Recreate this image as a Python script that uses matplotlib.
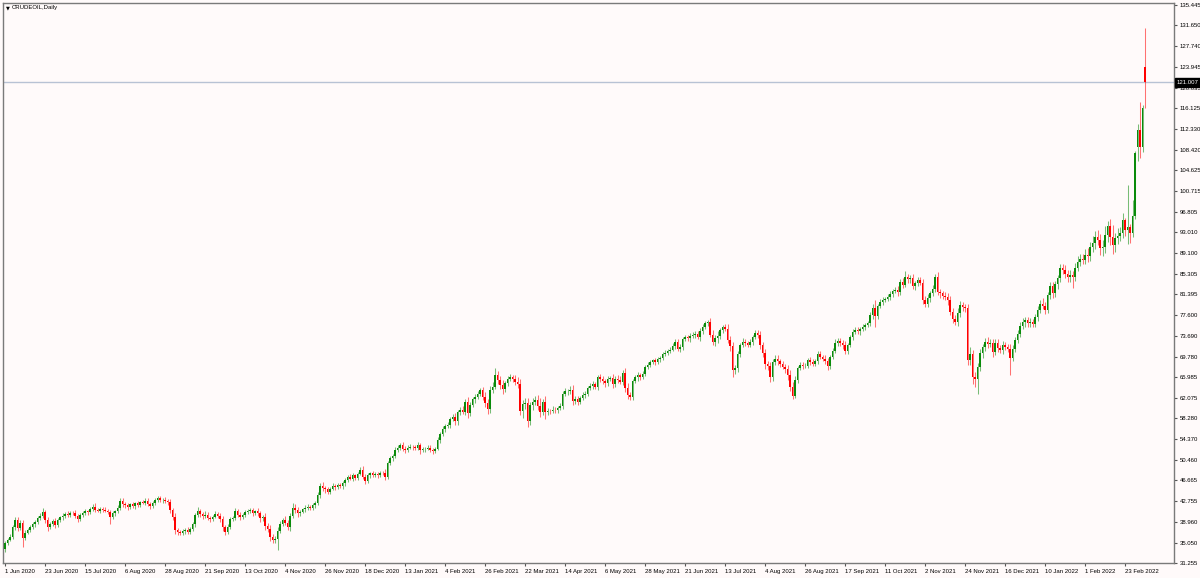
import numpy as np
import matplotlib
matplotlib.use('Agg')
import matplotlib.pyplot as plt
import matplotlib.transforms as mtransforms

# daily closes, one row per 16 bars (one row per date label)
closes = [
    35.0, 35.6, 36.2, 37.9, 39.2, 37.8, 38.8, 36.0, 36.9, 37.5, 37.9, 38.5, 38.9, 39.6, 40.1, 40.7,
    39.3, 38.0, 38.6, 39.1, 38.4, 39.2, 39.8, 40.1, 40.4, 40.2, 40.6, 40.5, 40.1, 39.5, 40.2, 40.6,
    40.9, 40.7, 41.3, 41.8, 41.2, 41.0, 41.4, 41.2, 41.0, 40.8, 39.9, 40.5, 40.9, 41.5, 42.8, 42.3,
    42.0, 41.7, 42.2, 41.9, 42.4, 42.1, 42.6, 42.5, 42.8, 42.3, 41.9, 42.5, 43.0, 43.3, 43.0, 43.1,
    42.8, 42.6, 41.1, 39.8, 37.4, 37.0, 36.9, 37.2, 37.4, 37.1, 37.6, 38.5, 40.2, 40.9, 40.4, 40.0,
    40.3, 39.7, 39.5, 39.9, 40.4, 40.1, 39.4, 37.9, 37.1, 38.0, 39.4, 39.7, 40.9, 40.3, 39.8, 40.2,
    40.8, 41.0, 41.1, 40.6, 40.9, 40.5, 39.6, 39.9, 38.2, 37.6, 36.2, 35.5, 35.8, 37.3, 38.6, 39.3,
    38.8, 38.0, 40.1, 41.6, 41.2, 40.5, 40.8, 41.3, 41.6, 41.8, 41.5, 42.0, 42.5, 44.0, 45.6, 45.2,
    45.0, 44.6, 45.1, 45.6, 45.4, 45.8, 45.6, 46.1, 46.8, 47.3, 47.0, 47.6, 47.2, 47.9, 48.6, 47.4,
    46.6, 47.6, 48.0, 47.7, 47.9, 47.6, 48.1, 48.0, 47.3, 49.9, 50.8, 51.2, 52.3, 52.8, 53.3, 52.6,
    52.3, 52.8, 53.0, 52.9, 52.7, 53.2, 52.3, 52.5, 52.6, 52.8, 52.4, 52.2, 52.6, 54.2, 55.3, 56.3,
    56.9, 57.1, 58.2, 58.5, 57.7, 59.4, 59.9, 59.5, 61.4, 59.2, 60.7, 61.8, 62.3, 62.9, 63.5, 62.3,
    61.2, 60.0, 63.6, 64.2, 66.3, 65.5, 64.5, 63.7, 64.8, 65.6, 65.9, 65.7, 65.0, 64.6, 59.7, 60.9,
    61.1, 57.8, 60.8, 61.4, 61.7, 60.6, 59.5, 61.3, 59.4, 59.7, 59.6, 59.9, 59.8, 60.2, 60.6, 62.8,
    63.3, 63.3, 63.6, 61.5, 61.9, 61.4, 62.1, 62.6, 62.9, 63.9, 64.3, 64.6, 64.2, 65.9, 65.6, 65.2,
    64.8, 65.6, 65.8, 64.6, 65.7, 65.5, 65.1, 66.8, 64.0, 62.6, 62.2, 65.3, 65.9, 66.4, 66.0, 66.6,
    67.8, 68.3, 68.8, 69.1, 68.8, 69.3, 69.6, 70.2, 70.5, 70.9, 71.1, 71.8, 72.6, 71.2, 71.6, 73.1,
    73.4, 73.2, 73.6, 73.8, 74.1, 73.4, 74.5, 75.4, 76.0, 76.3, 73.9, 72.5, 73.2, 73.6, 74.7, 75.3,
    75.0, 72.9, 71.7, 67.2, 67.6, 70.3, 71.9, 72.6, 72.3, 72.0, 72.5, 73.4, 74.2, 73.9, 72.0, 70.5,
    68.4, 68.0, 65.9, 68.8, 69.4, 68.9, 68.4, 67.9, 67.5, 66.4, 64.2, 62.5, 65.5, 67.6, 68.2, 68.0,
    68.1, 69.2, 68.8, 68.5, 69.0, 70.3, 69.7, 69.4, 69.0, 68.0, 69.7, 70.9, 72.4, 72.8, 72.3, 72.0,
    70.8, 71.9, 73.4, 74.4, 74.8, 74.5, 74.9, 75.3, 75.7, 76.0, 77.5, 78.9, 77.4, 79.2, 79.9, 80.4,
    80.6, 81.0, 81.5, 82.0, 82.3, 81.8, 83.8, 83.2, 84.7, 84.2, 84.5, 82.9, 83.5, 84.1, 83.6, 80.4,
    79.7, 80.8, 81.6, 82.5, 84.6, 81.9, 81.6, 81.2, 81.0, 80.4, 78.2, 76.9, 76.3, 78.0, 79.4, 79.0,
    78.8, 69.2, 70.3, 66.0, 65.6, 67.9, 70.4, 71.6, 72.6, 72.2, 72.4, 70.7, 72.3, 71.4, 71.0, 72.0,
    71.6, 71.3, 69.5, 71.3, 72.9, 74.1, 75.6, 76.2, 76.6, 76.0, 76.3, 75.9, 77.2, 78.5, 79.7, 79.2,
    78.5, 81.3, 82.9, 81.6, 83.3, 84.4, 86.3, 86.0, 85.2, 84.7, 85.0, 84.7, 86.4, 87.5, 88.1, 87.9,
    88.8, 88.5, 90.3, 91.0, 92.2, 91.6, 90.0, 90.3, 92.5, 94.1, 92.2, 90.6, 91.9, 92.3, 92.8, 95.3,
    93.4, 94.0, 92.8, 96.0, 107.8, 112.1, 108.9, 116.2, 121.007,
]

# opens follow the previous close except where the chart shows a gap
open_first = 33.8
open_gaps = {453: 108.9, 456: 123.9}

# wick lengths above / below the body
wick_up = [
    0.4, 0.3, 0.5, 0.4, 0.7, 0.6, 0.5, 0.4, 0.6, 0.3, 0.5, 0.4, 0.3, 0.5, 0.4, 0.8,
    0.5, 0.6, 0.4, 0.3, 0.5, 0.4, 0.3, 0.4, 0.3, 0.5, 0.3, 0.4, 0.6, 0.3, 0.4, 0.3,
    0.4, 0.3, 0.5, 0.4, 0.6, 0.3, 0.4, 0.3, 0.5, 0.4, 0.3, 0.4, 0.3, 0.5, 0.5, 0.6,
    0.3, 0.4, 0.3, 0.5, 0.3, 0.4, 0.3, 0.4, 0.5, 0.6, 0.3, 0.4, 0.3, 0.4, 0.5, 0.3,
    0.5, 0.4, 0.6, 0.5, 0.7, 0.4, 0.5, 0.4, 0.3, 0.5, 0.4, 0.5, 0.4, 0.9, 0.5, 0.4,
    0.6, 0.5, 0.4, 0.3, 0.5, 0.4, 0.5, 0.6, 0.4, 0.5, 0.4, 0.3, 0.7, 0.5, 0.4, 0.3,
    0.4, 0.3, 0.5, 0.4, 0.3, 0.6, 0.5, 0.4, 0.6, 0.5, 0.7, 0.4, 0.5, 0.6, 0.5, 0.4,
    0.7, 0.5, 0.4, 0.8, 0.6, 0.5, 0.4, 0.3, 0.5, 0.4, 0.3, 0.4, 0.3, 0.6, 0.5, 0.8,
    0.5, 0.4, 0.3, 0.5, 0.4, 0.3, 0.4, 0.5, 0.4, 0.3, 0.5, 0.4, 0.3, 0.4, 0.6, 0.7,
    0.5, 0.4, 0.3, 0.5, 0.4, 0.3, 0.4, 0.3, 0.8, 0.4, 0.5, 0.4, 0.6, 0.5, 0.4, 0.6,
    0.5, 0.4, 0.5, 0.3, 0.4, 0.6, 0.5, 0.4, 0.3, 0.4, 0.5, 0.4, 0.3, 0.5, 0.4, 0.5,
    0.4, 0.5, 0.4, 0.6, 0.7, 0.5, 0.4, 0.6, 0.5, 0.9, 0.6, 0.4, 0.5, 0.4, 0.5, 0.7,
    0.8, 0.6, 0.7, 0.9, 1.3, 0.8, 0.7, 0.9, 0.5, 0.6, 0.7, 0.5, 0.6, 0.9, 1.0, 0.8,
    0.9, 1.0, 0.6, 0.7, 0.8, 0.9, 1.4, 0.6, 1.2, 0.5, 0.4, 0.6, 0.5, 0.4, 0.6, 0.5,
    0.6, 0.5, 0.7, 0.8, 0.6, 0.5, 0.4, 0.6, 0.5, 0.4, 0.5, 0.6, 0.5, 0.4, 0.6, 0.5,
    0.5, 0.6, 0.4, 0.8, 0.5, 0.6, 0.7, 0.5, 0.9, 0.8, 0.6, 0.4, 0.5, 0.6, 0.4, 0.5,
    0.4, 0.5, 0.4, 0.3, 0.5, 0.4, 0.3, 0.4, 0.5, 0.3, 0.4, 0.5, 0.4, 0.5, 0.6, 0.4,
    0.5, 0.4, 0.6, 0.5, 0.4, 0.5, 0.6, 0.4, 0.5, 0.4, 0.7, 0.8, 0.6, 1.0, 0.5, 0.4,
    0.6, 0.8, 0.7, 0.9, 0.6, 0.5, 0.4, 0.6, 0.5, 0.4, 0.5, 0.4, 0.6, 0.5, 0.7, 0.6,
    0.7, 0.6, 0.8, 0.5, 0.6, 0.7, 0.5, 0.6, 0.5, 0.7, 0.8, 0.9, 0.6, 0.5, 0.6, 0.5,
    0.5, 0.4, 0.6, 0.5, 0.4, 0.6, 0.5, 0.4, 0.6, 0.5, 0.4, 0.5, 0.6, 0.4, 0.5, 0.6,
    0.7, 0.5, 0.4, 0.5, 0.6, 0.5, 0.4, 0.5, 0.4, 0.5, 0.6, 0.7, 1.4, 0.5, 0.6, 0.5,
    0.4, 0.5, 0.6, 0.5, 0.4, 0.6, 0.5, 0.6, 1.0, 0.5, 0.6, 0.8, 0.5, 0.6, 0.5, 0.7,
    0.8, 0.6, 0.5, 0.7, 0.6, 0.9, 0.6, 0.5, 0.7, 0.6, 0.8, 0.7, 0.6, 0.9, 0.7, 0.6,
    0.7, 0.9, 1.2, 0.8, 0.9, 0.7, 0.8, 0.6, 0.7, 0.8, 0.7, 0.6, 0.8, 0.7, 0.6, 0.7,
    0.6, 0.5, 0.8, 0.6, 0.5, 0.7, 0.6, 0.8, 0.5, 0.6, 0.7, 0.5, 0.6, 0.7, 0.6, 1.1,
    0.7, 0.6, 0.8, 0.9, 0.7, 0.6, 0.7, 0.8, 0.9, 0.7, 1.0, 0.8, 0.9, 1.1, 0.8, 0.9,
    1.0, 1.2, 0.9, 1.4, 1.1, 1.3, 1.0, 1.2, 1.6, 1.1, 1.3, 2.2, 1.0, 1.5, 1.2, 1.4,
    0.4, 7.8, 0.6, 3.0, 0.4, 1.2, 5.2, 0.6, 7.2,
]
wick_dn = [
    0.5, 0.4, 0.3, 0.5, 0.4, 0.6, 0.3, 1.7, 0.4, 0.3, 0.4, 0.3, 0.5, 0.4, 0.3, 0.5,
    0.6, 0.7, 0.4, 0.5, 0.6, 0.4, 0.3, 0.5, 0.4, 0.3, 0.4, 0.3, 0.5, 0.6, 0.4, 0.3,
    0.4, 0.5, 0.3, 0.4, 0.5, 0.3, 0.4, 0.5, 0.3, 0.4, 1.3, 0.5, 0.4, 0.3, 0.4, 0.5,
    0.4, 0.5, 0.3, 0.4, 0.5, 0.3, 0.4, 0.3, 0.5, 0.4, 0.6, 0.3, 0.4, 0.3, 0.4, 0.5,
    0.4, 0.5, 0.6, 0.5, 0.7, 0.6, 0.5, 0.4, 0.6, 0.5, 0.4, 0.3, 0.5, 0.4, 0.6, 0.5,
    0.4, 0.5, 0.6, 0.4, 0.3, 0.5, 0.4, 0.6, 0.7, 0.5, 0.4, 0.3, 0.4, 0.5, 0.6, 0.4,
    0.3, 0.4, 0.5, 0.6, 0.4, 0.5, 0.6, 0.5, 0.7, 0.6, 0.8, 0.5, 0.6, 2.1, 0.5, 0.4,
    0.5, 0.6, 0.7, 0.5, 0.6, 0.7, 0.4, 0.3, 0.5, 0.4, 0.3, 0.4, 0.5, 0.4, 0.6, 0.5,
    0.6, 0.5, 0.4, 0.3, 0.5, 0.4, 0.3, 0.5, 0.4, 0.5, 0.3, 0.4, 0.5, 0.4, 0.3, 0.5,
    0.6, 0.4, 0.5, 0.3, 0.4, 0.5, 0.3, 0.4, 0.6, 0.3, 0.4, 0.5, 0.4, 0.3, 0.5, 0.4,
    0.5, 0.4, 0.3, 0.5, 0.4, 0.3, 0.6, 0.4, 0.5, 0.3, 0.4, 0.5, 0.4, 0.3, 0.5, 0.4,
    0.5, 0.4, 0.6, 0.5, 0.7, 0.6, 0.5, 0.4, 0.6, 0.8, 0.5, 0.4, 0.6, 0.5, 0.4, 0.6,
    0.8, 1.0, 0.7, 0.6, 0.5, 0.8, 0.7, 0.9, 0.6, 0.5, 0.4, 0.6, 0.5, 0.7, 0.9, 1.3,
    0.8, 1.1, 0.7, 0.9, 0.6, 0.8, 1.0, 0.7, 1.2, 0.5, 0.6, 0.4, 0.5, 0.6, 0.4, 0.5,
    0.4, 0.6, 0.5, 0.7, 0.5, 0.6, 0.5, 0.4, 0.6, 0.5, 0.4, 0.6, 0.5, 0.7, 0.5, 0.6,
    0.6, 0.5, 0.4, 0.6, 0.5, 0.7, 0.5, 0.6, 0.8, 0.7, 0.6, 0.5, 0.4, 0.6, 0.5, 0.4,
    0.5, 0.4, 0.5, 0.3, 0.6, 0.4, 0.5, 0.4, 0.3, 0.5, 0.4, 0.3, 0.5, 0.4, 0.6, 0.5,
    0.4, 0.5, 0.6, 0.4, 0.5, 0.4, 0.6, 0.5, 0.4, 0.5, 0.4, 0.5, 0.8, 0.9, 0.6, 0.5,
    0.4, 0.6, 0.8, 1.2, 0.7, 0.6, 0.5, 0.4, 0.6, 0.5, 0.4, 0.5, 0.4, 0.6, 0.7, 0.8,
    0.9, 0.7, 0.8, 0.6, 0.5, 0.7, 0.6, 0.5, 0.7, 0.9, 0.8, 0.6, 0.5, 0.6, 0.4, 0.5,
    0.4, 0.5, 0.6, 0.4, 0.5, 0.6, 0.4, 0.5, 0.6, 0.7, 0.5, 0.4, 0.5, 0.6, 0.5, 0.7,
    0.6, 0.5, 0.4, 0.5, 0.4, 0.5, 0.6, 0.4, 0.5, 0.4, 0.5, 0.6, 2.1, 0.5, 0.4, 0.5,
    0.5, 0.4, 0.6, 0.5, 0.4, 0.7, 0.5, 0.6, 0.5, 0.7, 0.6, 0.5, 0.7, 0.6, 0.5, 0.8,
    0.7, 0.6, 0.8, 0.5, 0.7, 0.6, 0.8, 0.7, 0.6, 0.9, 0.7, 0.8, 0.6, 0.7, 0.8, 0.6,
    0.7, 1.0, 0.9, 1.3, 1.4, 2.7, 0.8, 0.9, 0.7, 0.8, 0.6, 0.9, 0.7, 0.8, 0.6, 0.7,
    0.6, 0.7, 3.1, 0.6, 0.7, 0.5, 0.6, 0.7, 0.8, 0.6, 0.7, 0.5, 0.6, 0.7, 0.5, 0.6,
    0.8, 0.6, 0.7, 0.9, 0.7, 0.8, 0.6, 0.7, 0.8, 1.0, 0.9, 2.1, 0.8, 0.7, 0.8, 0.9,
    0.9, 1.0, 0.8, 0.9, 1.1, 1.0, 1.2, 1.4, 1.1, 1.3, 1.5, 1.6, 1.2, 1.1, 1.0, 0.9,
    1.0, 2.6, 1.8, 0.6, 0.6, 2.6, 2.0, 0.9, 4.8,
]

date_labels = ['1 Jun 2020', '23 Jun 2020', '15 Jul 2020', '6 Aug 2020', '28 Aug 2020',
               '21 Sep 2020', '13 Oct 2020', '4 Nov 2020', '26 Nov 2020', '18 Dec 2020',
               '13 Jan 2021', '4 Feb 2021', '26 Feb 2021', '22 Mar 2021', '14 Apr 2021',
               '6 May 2021', '28 May 2021', '21 Jun 2021', '13 Jul 2021', '4 Aug 2021',
               '26 Aug 2021', '17 Sep 2021', '11 Oct 2021', '2 Nov 2021', '24 Nov 2021',
               '16 Dec 2021', '10 Jan 2022', '1 Feb 2022', '23 Feb 2022']
bars_per_label = 16

price_ticks = [135.445, 131.650, 127.740, 123.945, 120.035, 116.125, 112.330, 108.420,
               104.625, 100.715, 96.805, 93.010, 89.100, 85.305, 81.395, 77.600, 73.690,
               69.780, 65.985, 62.075, 58.280, 54.370, 50.460, 46.665, 42.755, 38.960,
               35.050, 31.255]
last_price = 121.007

n = min(len(closes), len(wick_up), len(wick_dn))
c = np.array(closes[:n])
o = np.concatenate([[open_first], c[:-1]])
for k, v in open_gaps.items():
    if k < n:
        o[k] = v
top = np.maximum(o, c)
bot = np.minimum(o, c)
hi = top + np.array(wick_up[:n])
lo = bot - np.array(wick_dn[:n])
x = np.arange(n)
up = c >= o

bg = '#fffafa'
green = '#0a8a0a'
red = '#ff0000'
fs = 4.3

plt.rcParams['font.family'] = ['Liberation Sans', 'DejaVu Sans']
fig = plt.figure(figsize=(12, 5.78), dpi=100, facecolor=bg)
ax = fig.add_axes([3 / 1200, 15 / 578, 1171 / 1200, 560 / 578], facecolor=bg)

cols = np.where(up, green, red)
ax.vlines(x, lo, hi, colors=cols, linewidth=0.75, alpha=0.55, zorder=2)
ax.bar(x, np.maximum(top - bot, 0.08), bottom=bot, width=0.62, color=cols,
       linewidth=0, zorder=3)

# current price line and its black label
ax.axhline(last_price, color='#b8c2d4', linewidth=1.0, zorder=1)
trans = mtransforms.blended_transform_factory(ax.transAxes, ax.transData)
ax.text(1.0025, last_price, f'{last_price:.3f}', transform=trans, color='white',
        fontsize=fs, va='center', ha='left', zorder=5, clip_on=False,
        bbox=dict(boxstyle='square,pad=0.35', fc='black', ec='black'))

ax.set_xlim(-0.8, 467.6)
ax.set_ylim(31.255, 135.818)

ax.yaxis.tick_right()
ax.set_yticks(price_ticks)
ax.set_yticklabels([f'{v:.3f}' for v in price_ticks])
ax.set_xticks([i * bars_per_label for i in range(len(date_labels))])
ax.set_xticklabels(date_labels, ha='left')
ax.tick_params(axis='both', direction='out', length=2.5, width=0.8, color='#555555',
               labelsize=fs, labelcolor='black', pad=1.5)
for s in ax.spines.values():
    s.set_color('#7a7a7a')
    s.set_linewidth(1.0)

fig.text(6 / 1200, 1 - 8 / 578, '\u25bc', fontsize=3.6, va='center', ha='left',
         family=['DejaVu Sans'])
fig.text(12 / 1200, 1 - 8 / 578, 'CRUDEOIL,Daily', fontsize=fs, va='center', ha='left')

plt.savefig('out.png', dpi=100, facecolor=bg)
